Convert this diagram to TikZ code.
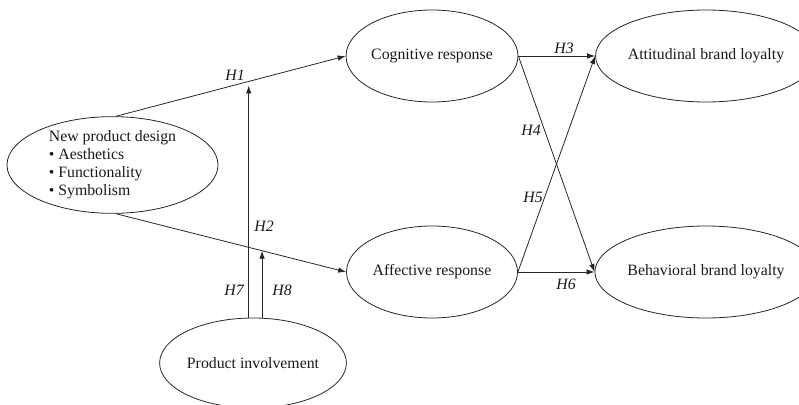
\documentclass[tikz,border=0pt]{standalone}
\usepackage{fontspec}
\setmainfont{Liberation Serif}
\usetikzlibrary{shapes.geometric,arrows.meta,calc}
\begin{document}
\begin{tikzpicture}[x=1pt,y=-1pt,
  every node/.style={font=\fontsize{15.8}{18}\selectfont, text=black!90},
  ell/.style={draw=black!85, line width=0.8pt, ellipse, inner sep=0pt},
  arr/.style={draw=black!85, line width=0.8pt, -{Latex[length=8pt,width=5.5pt]}},
  hlab/.style={font=\fontsize{15.8}{18}\selectfont\itshape, inner sep=0pt}]
\useasboundingbox (0,0) rectangle (799,404);

\node[ell, minimum width=211pt, minimum height=90pt, align=left] (npd) at (112.5,165)
  {New product design\\ \textbullet\ Aesthetics\\ \textbullet\ Functionality\\ \textbullet\ Symbolism};
\node[ell, minimum width=171pt, minimum height=92pt] (cog) at (432,56) {Cognitive response};
\node[ell, minimum width=171pt, minimum height=92pt] (aff) at (432,272) {Affective response};
\node[ell, minimum width=186pt, minimum height=92pt] (att) at (706,56) {Attitudinal brand loyalty};
\node[ell, minimum width=186pt, minimum height=92pt] (beh) at (706,272) {Behavioral brand loyalty};
\node[ell, minimum width=176pt, minimum height=90pt] (pi) at (253,363) {Product involvement};

% main paths
\draw[arr] (npd.86) -- (cog.west) coordinate[pos=0.578] (m1);
\draw[arr] (npd.-86) -- (aff.west) coordinate[pos=0.635] (m2);
\draw[arr] (cog.east) -- (att.west);
\draw[arr] (cog.east) -- (beh.west);
\draw[arr] (aff.east) -- (att.west);
\draw[arr] (aff.east) -- (beh.west);

% moderation
\draw[arr, shorten >=4pt] (pi.north -| m1) -- (m1);
\draw[arr] (pi.north -| m2) -- (m2);

% labels
\node[hlab] (l1) at (235,75) {H1};
\node[hlab] (l2) at (264,226) {H2};
\node[hlab] (l3) at (564,48) {H3};
\node[hlab] (l4) at (531,130) {H4};
\node[hlab] (l5) at (533,197) {H5};
\node[hlab] (l6) at (566,284) {H6};
\node[hlab] (l7) at (234,290) {H7};
\node[hlab] (l8) at (282,290) {H8};
\end{tikzpicture}
\end{document}
